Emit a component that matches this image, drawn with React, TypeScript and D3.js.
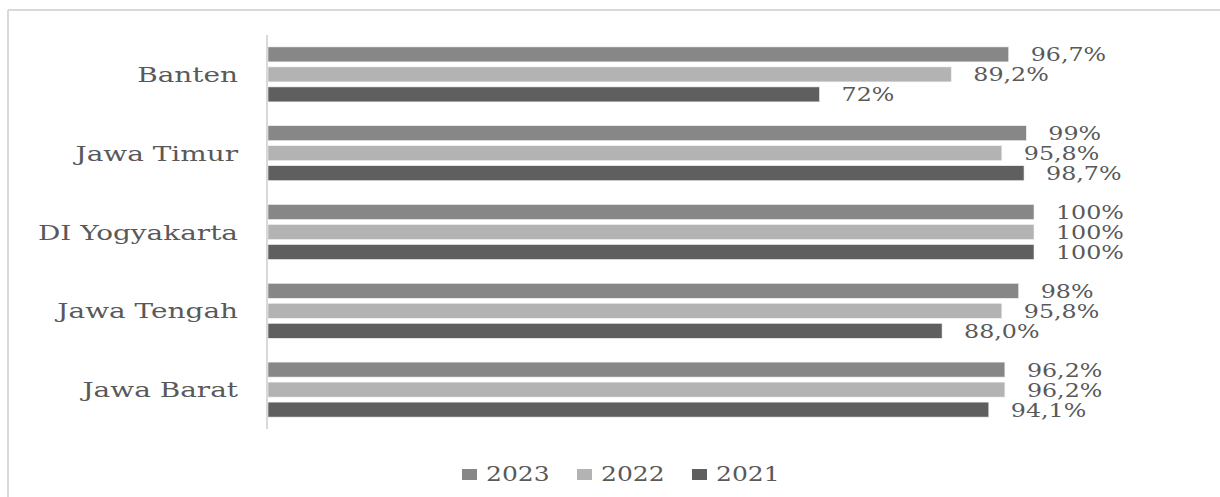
import React from "react";
import * as d3 from "d3";

const provinces = ["Banten", "Jawa Timur", "DI Yogyakarta", "Jawa Tengah", "Jawa Barat"];
const seriesNames = ["2023", "2022", "2021"];
const values2023 = [96.7, 99, 100, 98, 96.2];
const values2022 = [89.2, 95.8, 100, 95.8, 96.2];
const values2021 = [72, 98.7, 100, 88.0, 94.1];
// decimals shown in each value label
const decimals2023 = [1, 0, 0, 0, 1];
const decimals2022 = [1, 1, 0, 1, 1];
const decimals2021 = [0, 1, 0, 1, 1];
const seriesColors = ["#878787", "#b3b3b3", "#5f5f5f"];

const W = 1220;
const H = 497;
const FONT = "'DejaVu Serif', serif";
const TEXT = "#595959";
const SX = 1.25; // horizontal stretch of the lettering
const SX_CAT = 1.33;

const fmt = (v: number, d: number) => v.toFixed(d).replace(".", ",") + "%";

export default function App() {
  const series = [
    { name: seriesNames[0], values: values2023, dec: decimals2023, color: seriesColors[0] },
    { name: seriesNames[1], values: values2022, dec: decimals2022, color: seriesColors[1] },
    { name: seriesNames[2], values: values2021, dec: decimals2021, color: seriesColors[2] },
  ];

  const x = d3.scaleLinear().domain([0, 100]).range([268, 1034]);
  const y = d3.scaleBand<string>().domain(provinces).range([35, 429]);
  const inner = d3
    .scaleBand<string>()
    .domain(seriesNames)
    .range([0, 60])
    .paddingInner(0.25)
    .paddingOuter(0.125);

  const legendX = d3.scalePoint<string>().domain(seriesNames).range([462, 692]);

  return (
    <svg
      width={W}
      height={H}
      style={{ position: "absolute", left: 0, top: 0, background: "#fff" }}
      fontFamily={FONT}
    >
      <rect x={0} y={0} width={W} height={H} fill="#fff" />
      {/* frame */}
      <line x1={8} x2={W} y1={10} y2={10} stroke="#d9d9d9" strokeWidth={2} />
      <line x1={8} x2={8} y1={10} y2={H} stroke="#d9d9d9" strokeWidth={2} />

      {provinces.map((p, i) => {
        const cy = (y(p) as number) + y.bandwidth() / 2;
        return (
          <g key={p}>
            <text
              transform={`translate(238,${cy + 7.5}) scale(${SX_CAT},1)`}
              textAnchor="end"
              fontSize={21}
              fill={TEXT}
            >
              {p}
            </text>
            {series.map((s) => {
              const by = cy - 30 + (inner(s.name) as number);
              const v = s.values[i];
              return (
                <g key={s.name}>
                  <rect
                    x={x(0)}
                    y={by}
                    width={x(v) - x(0)}
                    height={inner.bandwidth()}
                    fill={s.color}
                    stroke="#f2f2f2"
                    strokeWidth={0.6}
                  />
                  <text
                    transform={`translate(${x(v) + 22},${by + inner.bandwidth() / 2 + 7}) scale(${SX},1)`}
                    fontSize={19}
                    fill={TEXT}
                  >
                    {fmt(v, s.dec[i])}
                  </text>
                </g>
              );
            })}
          </g>
        );
      })}

      {/* category axis */}
      <line x1={267} x2={267} y1={35} y2={429} stroke="#d9d9d9" strokeWidth={2} />

      {/* legend */}
      {series.map((s) => {
        const lx = legendX(s.name) as number;
        return (
          <g key={s.name}>
            <rect x={lx} y={469} width={15} height={11} fill={s.color} />
            <text
              transform={`translate(${lx + 24},481) scale(${SX},1)`}
              fontSize={20}
              fill={TEXT}
            >
              {s.name}
            </text>
          </g>
        );
      })}
    </svg>
  );
}
